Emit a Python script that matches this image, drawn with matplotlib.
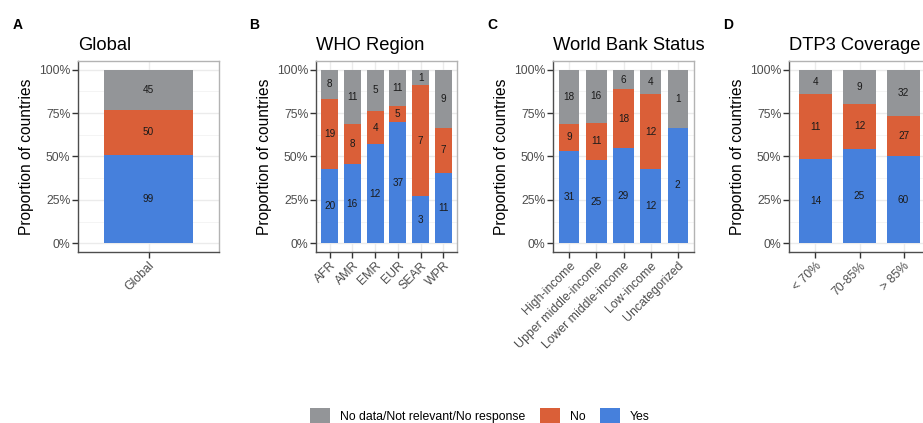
import numpy as np
import matplotlib
matplotlib.use("Agg")
import matplotlib.pyplot as plt
from matplotlib.patches import Patch

plt.rcParams['font.family'] = ['Liberation Sans', 'DejaVu Sans']

# ---- data ----
series_names = ['No data/Not relevant/No response', 'No', 'Yes']
colors = {'nodata': '#939598', 'no': '#DA5F38', 'yes': '#4680DC'}

global_cats = ['Global']
global_yes = [99]
global_no = [50]
global_nodata = [45]

who_cats = ['AFR', 'AMR', 'EMR', 'EUR', 'SEAR', 'WPR']
who_yes = [20, 16, 12, 37, 3, 11]
who_no = [19, 8, 4, 5, 7, 7]
who_nodata = [8, 11, 5, 11, 1, 9]

wb_cats = ['High-income', 'Upper middle-income', 'Lower middle-income',
           'Low-income', 'Uncategorized']
wb_yes = [31, 25, 29, 12, 2]
wb_no = [9, 11, 18, 12, 0]
wb_nodata = [18, 16, 6, 4, 1]

dtp_cats = ['< 70%', '70-85%', '> 85%']
dtp_yes = [14, 25, 60]
dtp_no = [11, 12, 27]
dtp_nodata = [4, 9, 32]

panels = [
    ('A', 'Global', global_cats, global_yes, global_no, global_nodata),
    ('B', 'WHO Region', who_cats, who_yes, who_no, who_nodata),
    ('C', 'World Bank Status', wb_cats, wb_yes, wb_no, wb_nodata),
    ('D', 'DTP3 Coverage', dtp_cats, dtp_yes, dtp_no, dtp_nodata),
]

W, H = 923, 423
fig = plt.figure(figsize=(W / 100, H / 100), dpi=100)
fig.patch.set_facecolor('white')

ax_left_px = [78, 316, 553, 789]
ax_w_px = 141
ax_top_px = 61
ax_bot_px = 252
letter_x_px = [13, 249, 487, 723]

def fx(px):
    return px / W

def fy(py):
    return 1 - py / H

for i, (letter, title, cats, yes, no, nod) in enumerate(panels):
    ax = fig.add_axes([fx(ax_left_px[i]), fy(ax_bot_px), fx(ax_w_px),
                       (ax_bot_px - ax_top_px) / H])
    yes = np.array(yes, float)
    no = np.array(no, float)
    nod = np.array(nod, float)
    tot = yes + no + nod
    py, pn, pd = yes / tot, no / tot, nod / tot
    x = np.arange(len(cats))
    w = 0.75
    ax.bar(x, py, w, color=colors['yes'], zorder=2)
    ax.bar(x, pn, w, bottom=py, color=colors['no'], zorder=2)
    ax.bar(x, pd, w, bottom=py + pn, color=colors['nodata'], zorder=2)
    for j in range(len(cats)):
        for val, bot, h in [(yes[j], 0, py[j]), (no[j], py[j], pn[j]),
                            (nod[j], py[j] + pn[j], pd[j])]:
            if val > 0:
                ax.text(x[j], bot + h / 2, f"{int(val)}", ha='center',
                        va='center', fontsize=7.2, color='#1a1a1a', zorder=3)
    ax.set_xlim(-0.6, len(cats) - 0.4)
    ax.set_ylim(-0.05, 1.05)
    ax.set_yticks([0, 0.25, 0.5, 0.75, 1.0])
    ax.set_yticklabels(['0%', '25%', '50%', '75%', '100%'])
    ax.set_yticks([0.125, 0.375, 0.625, 0.875], minor=True)
    ax.set_xticks(x)
    ax.set_xticklabels(cats, rotation=45, ha='right', va='top',
                       rotation_mode='anchor')
    ax.grid(True, which='major', color='#EBEBEB', linewidth=1.0, zorder=0)
    ax.grid(True, which='minor', axis='y', color='#F2F2F2', linewidth=0.6, zorder=0)
    ax.set_axisbelow(True)
    ax.tick_params(axis='both', which='major', length=4, width=1.0,
                   color='#333333', labelsize=8.8, labelcolor='#4D4D4D', pad=1.5)
    ax.tick_params(axis='both', which='minor', length=0)
    for s in ['left', 'bottom']:
        ax.spines[s].set_color('#4D4D4D')
        ax.spines[s].set_linewidth(1.0)
    for s in ['top', 'right']:
        ax.spines[s].set_color('#B3B3B3')
        ax.spines[s].set_linewidth(1.0)
    ax.set_ylabel('Proportion of countries', fontsize=11.2, color='black')
    ax.yaxis.set_label_coords(-44 / ax_w_px, 0.5)
    # title, left aligned at axes left
    fig.text(fx(ax_left_px[i]), fy(50), title, fontsize=13.2, ha='left',
             va='baseline', color='black')
    fig.text(fx(letter_x_px[i]), fy(29), letter, fontsize=10, fontweight='bold',
             ha='left', va='baseline', color='black')

handles = [Patch(facecolor=colors['nodata'], label=series_names[0]),
           Patch(facecolor=colors['no'], label=series_names[1]),
           Patch(facecolor=colors['yes'], label=series_names[2])]
fig.legend(handles=handles, loc='center', bbox_to_anchor=(fx(480), fy(416)),
           ncol=3, frameon=False, fontsize=8.8, handlelength=1.65,
           handleheight=1.65, handletextpad=0.8, columnspacing=1.2,
           borderpad=0, borderaxespad=0)

fig.savefig('out.png', dpi=100, facecolor='white')
